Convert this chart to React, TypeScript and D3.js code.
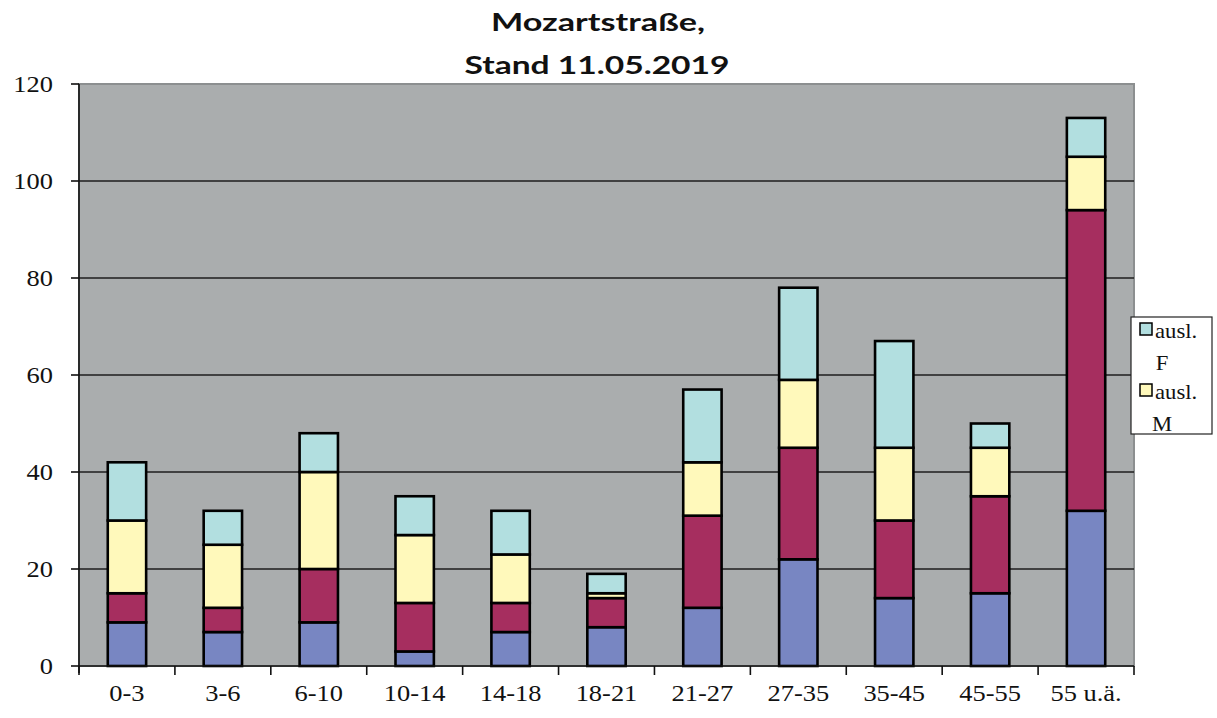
import React from "react";
import * as d3 from "d3";

const categories = ["0-3", "3-6", "6-10", "10-14", "14-18", "18-21", "21-27", "27-35", "35-45", "45-55", "55 u.ä."];
// series bottom -> top
const dtM = [9, 7, 9, 3, 7, 8, 12, 22, 14, 15, 32];
const dtF = [6, 5, 11, 10, 6, 6, 19, 23, 16, 20, 62];
const auslM = [15, 13, 20, 14, 10, 1, 11, 14, 15, 10, 11];
const auslF = [12, 7, 8, 8, 9, 4, 15, 19, 22, 5, 8];
const seriesNames = ["dt. M", "dt. F", "ausl. M", "ausl. F"];
const seriesColors = ["#7886C2", "#A62E5F", "#FFF9BB", "#B2DFE0"];
const yTicks = [0, 20, 40, 60, 80, 100, 120];
const legendItems = [
  { lines: ["ausl.", "F"], color: "#B2DFE0" },
  { lines: ["ausl.", "M"], color: "#FFF9BB" },
];
const titleLines = ["Mozartstraße,", "Stand 11.05.2019"];

const W = 1217;
const H = 718;
const left = 79;
const right = 1134;
const top = 84;
const bottom = 666;

export default function App() {
  const x = d3.scaleBand<string>().domain(categories).range([left, right]).padding(0);
  const y = d3.scaleLinear().domain([0, 120]).range([bottom, top]);
  const rows = categories.map((c, i) => ({
    cat: c,
    "dt. M": dtM[i],
    "dt. F": dtF[i],
    "ausl. M": auslM[i],
    "ausl. F": auslF[i],
  }));
  const stack = d3.stack<any>().keys(seriesNames)(rows);
  const bw = x.bandwidth() * 0.4;
  const serif = "'Liberation Serif', 'Times New Roman', serif";
  const sx = 1.15;

  return (
    <svg width={W} height={H} style={{ position: "absolute", left: 0, top: 0, background: "#fff" }}>
      <rect x={0} y={0} width={W} height={H} fill="#fff" />
      {/* title */}
      <text x={598} y={31} textAnchor="middle" fontFamily="Lato, 'Open Sans', sans-serif" fontWeight="bold" fontSize={25}
        textLength={214} lengthAdjust="spacingAndGlyphs" fill="#111">{titleLines[0]}</text>
      <text x={597} y={74} textAnchor="middle" fontFamily="Lato, 'Open Sans', sans-serif" fontWeight="bold" fontSize={25}
        textLength={265} lengthAdjust="spacingAndGlyphs" fill="#111">{titleLines[1]}</text>
      {/* plot area */}
      <rect x={left} y={top} width={right - left} height={bottom - top} fill="#AAADAE" stroke="#8C8F90" strokeWidth={2} />
      {yTicks.filter((t) => t > 0 && t < 120).map((t) => (
        <line key={t} x1={left} x2={right} y1={y(t)} y2={y(t)} stroke="#1E1E1E" strokeWidth={1.6} />
      ))}
      {/* bars */}
      {stack.map((s, si) => (
        <g key={s.key}>
          {s.map((d, i) => {
            const cx = (x(categories[i]) as number) + x.bandwidth() / 2;
            return (
              <rect key={i} x={cx - bw / 2} y={y(d[1])} width={bw} height={y(d[0]) - y(d[1])}
                fill={seriesColors[si]} stroke="#000" strokeWidth={2.6} />
            );
          })}
        </g>
      ))}
      {/* y axis */}
      <line x1={left} x2={left} y1={top} y2={bottom + 7} stroke="#111" strokeWidth={1.6} />
      {yTicks.map((t) => (
        <g key={t}>
          <line x1={left - 8} x2={left} y1={y(t)} y2={y(t)} stroke="#111" strokeWidth={1.6} />
          <text x={53} y={y(t) + 8} textAnchor="end" fontFamily={serif} fontSize={23}
            transform={`translate(53,0) scale(${sx},1) translate(-53,0)`} fill="#111">{t}</text>
        </g>
      ))}
      {/* x axis */}
      <line x1={left} x2={right} y1={bottom} y2={bottom} stroke="#111" strokeWidth={1.6} />
      {categories.map((c, i) => (
        <line key={"t" + i} x1={x(c) as number} x2={x(c) as number} y1={bottom} y2={bottom + 9} stroke="#111" strokeWidth={1.6} />
      ))}
      <line x1={right} x2={right} y1={bottom} y2={bottom + 9} stroke="#111" strokeWidth={1.6} />
      {categories.map((c) => {
        const cx = (x(c) as number) + x.bandwidth() / 2;
        return (
          <text key={c} x={cx} y={701} textAnchor="middle" fontFamily={serif} fontSize={23}
            transform={`translate(${cx},0) scale(${sx},1) translate(${-cx},0)`} fill="#111">{c}</text>
        );
      })}
      {/* legend */}
      <rect x={1131} y={317} width={81} height={117} fill="#fff" stroke="#222" strokeWidth={1.2} />
      {legendItems.map((it, i) => {
        const y0 = 323 + i * 61;
        return (
          <g key={i}>
            <rect x={1140} y={y0} width={12} height={12} fill={it.color} stroke="#000" strokeWidth={1.5} />
            <text x={1155} y={y0 + 15} fontFamily={serif} fontSize={21}
              transform={`translate(1155,0) scale(1.08,1) translate(-1155,0)`} fill="#111">{it.lines[0]}</text>
            <text x={1162} y={y0 + 47} textAnchor="middle" fontFamily={serif} fontSize={21}
              transform={`translate(1162,0) scale(1.08,1) translate(-1162,0)`} fill="#111">{it.lines[1]}</text>
          </g>
        );
      })}
    </svg>
  );
}
